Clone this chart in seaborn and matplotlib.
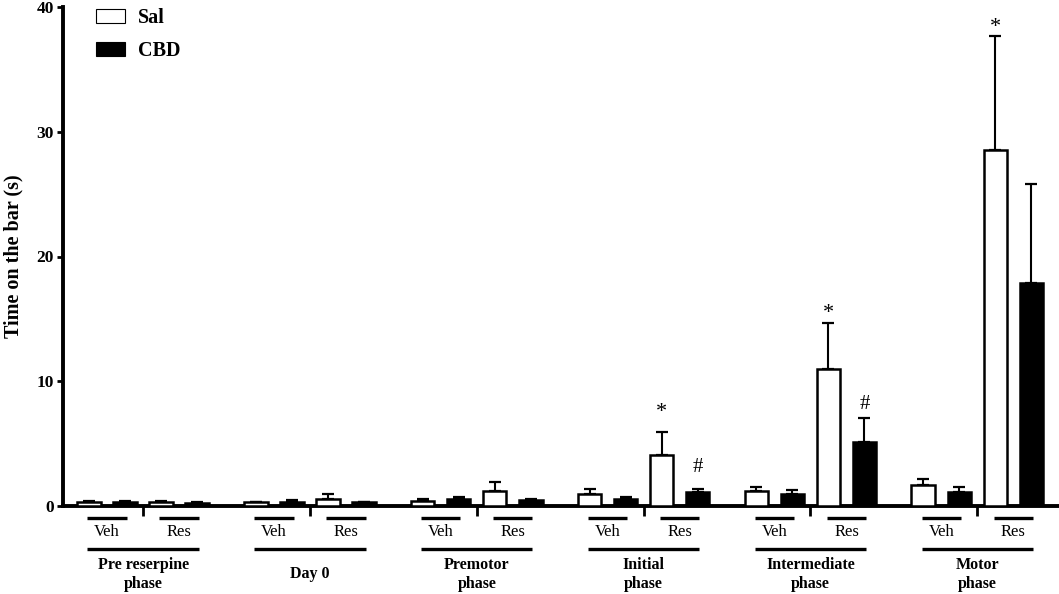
import matplotlib
matplotlib.use("Agg")
import matplotlib.pyplot as plt
import matplotlib.transforms as mtransforms
from matplotlib.patches import Patch
import numpy as np
import pandas as pd
import seaborn as sns

# ---------------- data ----------------
phases = ["Pre reserpine\nphase", "Day 0", "Premotor\nphase",
          "Initial\nphase", "Intermediate\nphase", "Motor\nphase"]
treatments = ["Veh", "Res"]
drugs = ["Sal", "CBD"]

sal_veh = [0.30, 0.30, 0.40, 1.00, 1.20, 1.70]
cbd_veh = [0.35, 0.35, 0.55, 0.60, 0.95, 1.15]
sal_res = [0.30, 0.55, 1.20, 4.05, 11.0, 28.5]
cbd_res = [0.28, 0.30, 0.50, 1.10, 5.10, 17.9]

sal_veh_sem = [0.08, 0.06, 0.15, 0.35, 0.35, 0.45]
cbd_veh_sem = [0.08, 0.15, 0.20, 0.12, 0.35, 0.40]
sal_res_sem = [0.08, 0.40, 0.70, 1.90, 3.65, 9.20]
cbd_res_sem = [0.06, 0.06, 0.10, 0.30, 1.95, 7.90]

star_phases = [3, 4, 5]   # "*" over Sal / Res
hash_phases = [3, 4]      # "#" over CBD / Res

yticks = [0, 10, 20, 30, 40]
ylabel = "Time on the bar (s)"

# ---------------- layout (annotation offsets in points) ----------------
star_offsets = {3: 14, 4: 7, 5: 6}
hash_offsets = {3: 15, 4: 9.5}

# ---------------- table ----------------
group_offset = 0.216
rows = []
vals = {("Sal", "Veh"): (sal_veh, sal_veh_sem), ("CBD", "Veh"): (cbd_veh, cbd_veh_sem),
        ("Sal", "Res"): (sal_res, sal_res_sem), ("CBD", "Res"): (cbd_res, cbd_res_sem)}
for i, ph in enumerate(phases):
    for t in treatments:
        pos = i + (-group_offset if t == "Veh" else group_offset)
        for d in drugs:
            m, s = vals[(d, t)]
            rows.append(dict(phase=i, treat=t, drug=d, pos=round(pos, 3), mean=m[i], sem=s[i]))
df = pd.DataFrame(rows)

# ---------------- figure ----------------
sns.set_style("ticks")
plt.rcParams["font.family"] = ["Liberation Serif", "DejaVu Serif"]
plt.rcParams["font.weight"] = "bold"
for k in ["text.color", "axes.labelcolor", "xtick.color", "ytick.color", "axes.edgecolor"]:
    plt.rcParams[k] = "black"

fig = plt.figure(figsize=(10.59, 5.94), dpi=100)
ax = fig.add_axes([63 / 1059, 88 / 594, 996 / 1059, 499 / 594])

sns.barplot(data=df, x="pos", y="mean", hue="drug", hue_order=drugs,
            palette={"Sal": "white", "CBD": "black"}, edgecolor="black",
            linewidth=1.8, width=1.0, gap=0.35, errorbar=None,
            native_scale=True, legend=False, ax=ax, zorder=3)

# error bars (upper only) on top of the seaborn bars
tops = {}
for drug, cont in zip(drugs, ax.containers):
    patches = sorted(cont.patches, key=lambda p: p.get_x())
    sub = df[df.drug == drug].sort_values("pos")
    xs = [p.get_x() + p.get_width() / 2 for p in patches]
    hs = [p.get_height() for p in patches]
    sems = sub["sem"].to_numpy()
    ax.errorbar(xs, hs, yerr=[np.zeros_like(sems), sems], fmt="none",
                ecolor="black", elinewidth=1.5, capsize=4.2, capthick=1.6, zorder=2)
    for r, x, h in zip(sub.itertuples(), xs, hs):
        tops[(drug, r.phase, r.treat)] = (x, h + r.sem)

for i in star_phases:
    x, y = tops[("Sal", i, "Res")]
    ax.annotate("*", (x, y), xytext=(0, star_offsets[i]), textcoords="offset points",
                ha="center", va="center", fontsize=16, fontweight="normal")
for i in hash_phases:
    x, y = tops[("CBD", i, "Res")]
    ax.annotate("#", (x, y), xytext=(0, hash_offsets[i]), textcoords="offset points",
                ha="center", va="center", fontsize=15, fontweight="normal")

# axes styling
ax.set_xlim(-0.48, 5.49)
ax.set_ylim(0, 40)
ax.set_yticks(yticks)
ax.set_yticklabels([str(v) for v in yticks], fontsize=12.5, fontweight="bold")
ax.set_xticks(range(len(phases)))
ax.set_xticklabels([])
ax.set_xlabel("")
ax.set_ylabel(ylabel, fontsize=14.5, fontweight="bold")
ax.yaxis.set_label_coords(-0.040, 0.5)
for sp in ["top", "right"]:
    ax.spines[sp].set_visible(False)
for sp in ["left", "bottom"]:
    ax.spines[sp].set_linewidth(2.8)
ax.tick_params(axis="y", length=4.5, width=2.0, pad=2)
ax.tick_params(axis="x", length=7, width=2.0)

# group labels below axis
trans = mtransforms.blended_transform_factory(ax.transData, ax.transAxes)
half = 0.118
for i, ph in enumerate(phases):
    for t in treatments:
        c = i + (-group_offset if t == "Veh" else group_offset)
        ax.plot([c - half, c + half], [-0.024, -0.024], transform=trans,
                color="black", lw=2.4, clip_on=False, solid_capstyle="butt")
        ax.text(c, -0.053, t, transform=trans, ha="center", va="center",
                fontsize=12, fontweight="normal")
    ax.plot([i - group_offset - half, i + group_offset + half], [-0.087, -0.087],
            transform=trans, color="black", lw=2.4, clip_on=False, solid_capstyle="butt")
    ax.text(i, -0.137, ph, transform=trans, ha="center", va="center",
            fontsize=11.5, fontweight="bold", linespacing=1.2)

# legend
handles = [Patch(facecolor="white", edgecolor="black", linewidth=0.8, label="Sal"),
           Patch(facecolor="black", edgecolor="black", linewidth=0.8, label="CBD")]
fig.legend(handles=handles, loc="upper left", bbox_to_anchor=(96 / 1059, 1 - 8 / 594),
           bbox_transform=fig.transFigure, frameon=False, borderpad=0, borderaxespad=0,
           handlelength=1.45, handleheight=0.75, handletextpad=0.65, labelspacing=0.65,
           prop={"family": "Liberation Serif", "weight": "bold", "size": 14.5})

fig.savefig("out.png", dpi=100)
